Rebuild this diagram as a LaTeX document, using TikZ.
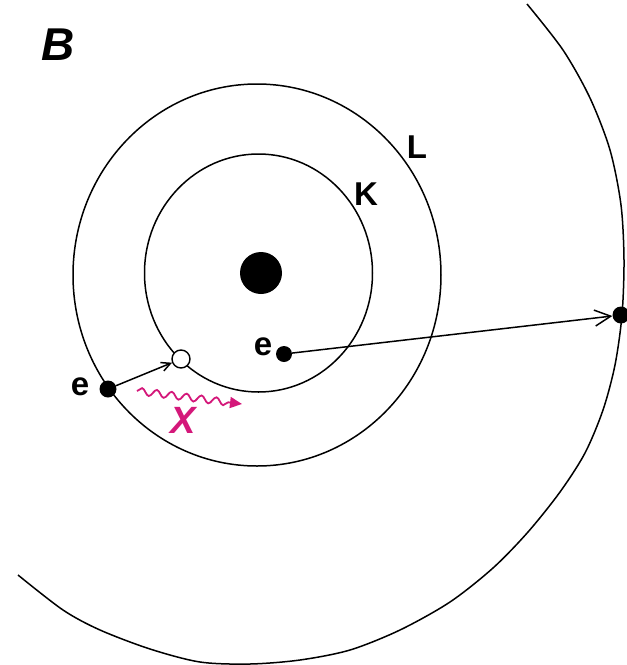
\documentclass[tikz,border=0pt]{standalone}
\usepackage{fontspec}
\setmainfont{Liberation Sans}
\usetikzlibrary{arrows.meta,decorations.pathmorphing}
\definecolor{xray}{RGB}{212,24,122}

\tikzstyle{nucleus} = [circle, fill=black, inner sep=0pt, minimum size=42pt]
\tikzstyle{electron} = [circle, fill=black, inner sep=0pt, minimum size=17pt]
\tikzstyle{hole} = [circle, draw=black, fill=white, line width=1.4pt, inner sep=0pt, minimum size=18pt]
\tikzstyle{shell} = [line width=1.5pt]
\tikzstyle{lbl} = [font=\fontsize{33}{33}\selectfont\bfseries, inner sep=0pt]

\begin{document}
\begin{tikzpicture}[x=1pt, y=-1pt]
      \useasboundingbox (0,0) rectangle (627,665);
      % shells K, L and the outer one
      \draw[shell] (258.5,273) ellipse [x radius=114, y radius=119];
      \draw[shell] (257,275) ellipse [x radius=184, y radius=191];
      \draw[shell] plot[smooth] coordinates {(527,4) (563,50) (590,98) (610,150)
        (621,205) (624,260) (622,315) (615,365) (603,410) (585,453) (560,492)
        (528,532) (493,568) (450,602) (400,630) (350,650) (300,660) (250,664)
        (200,662) (150,649) (100,630) (63,610) (18,575)};
      \node[nucleus] (n) at (261,273) {};
      \node[electron] (e1) at (108,389) {};
      \node[hole] (h) at (181,359) {};
      \node[electron, minimum size=16pt] (e2) at (284,354) {};
      \node[electron] (e3) at (621,315) {};
      \coordinate (1) at (137,391);
      \coordinate (2) at (242,404);
      \draw[shell, -{Straight Barb[length=9pt,width=9pt]}] (e1) -- (h);
      \draw[shell, -{Straight Barb[length=16pt,width=16pt]}] (e2) -- (e3);
      \draw[xray, line width=1.8pt, decorate,
        decoration={snake, amplitude=3.5pt, segment length=15pt, post length=9pt},
        -{Triangle[length=12pt,width=11pt]}] (1) -- (2);
      \node[lbl, font=\fontsize{46}{46}\selectfont\bfseries\itshape] (b) at (58,45) {B};
      \node[lbl] (l) at (417,147) {L};
      \node[lbl] (k) at (366,194) {K};
      \node[lbl] (le1) at (80,387) {e};
      \node[lbl] (le2) at (263,347) {e};
      \node[lbl, text=xray, font=\fontsize{38}{38}\selectfont\bfseries\itshape] (x) at (183,420) {X};
    \end{tikzpicture}
\end{document}
